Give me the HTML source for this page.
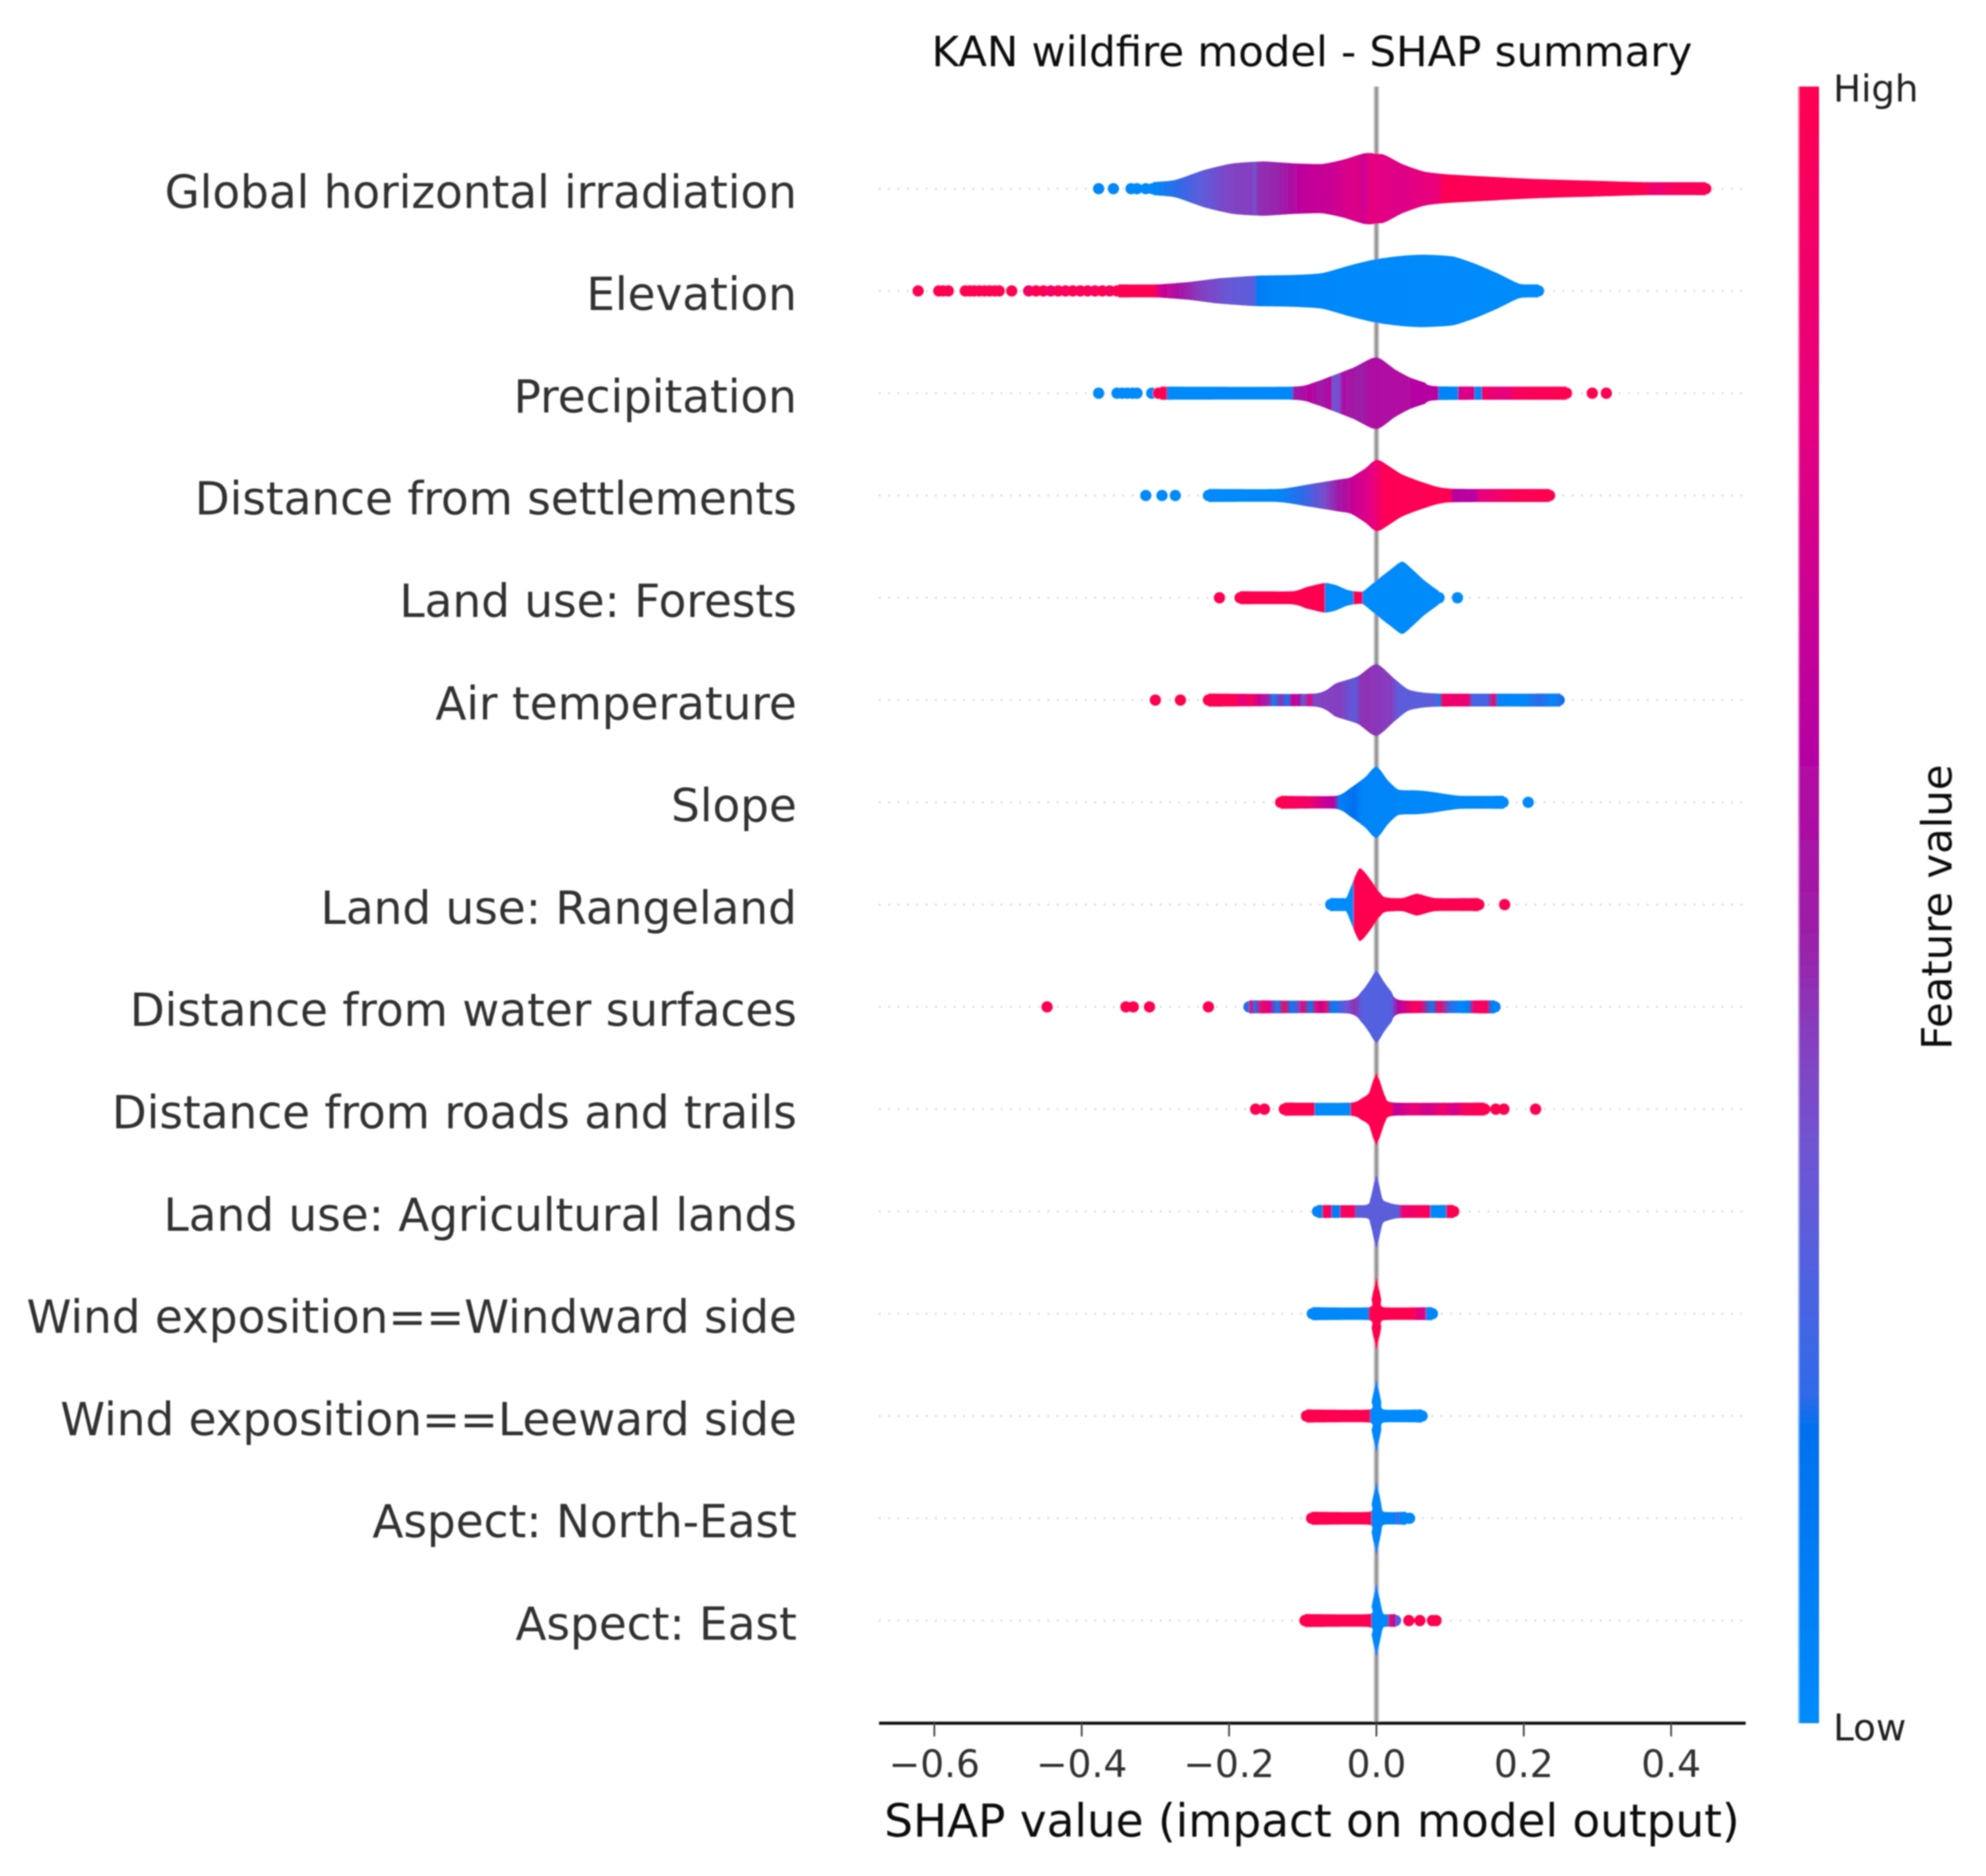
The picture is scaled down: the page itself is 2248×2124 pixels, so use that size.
<!DOCTYPE html>
<html lang="en">
<head>
<meta charset="utf-8">
<title>KAN wildfire model - SHAP summary</title>
<style>
html,body{margin:0;padding:0;background:#fff;width:2248px;height:2124px;overflow:hidden}
svg{display:block}
text{font-family:"DejaVu Sans","Liberation Sans",sans-serif}
</style>
</head>
<body>
<svg id="chart" xmlns="http://www.w3.org/2000/svg" width="2248" height="2124" viewBox="0 0 2248 2124">
  <defs id="defs">
    <filter id="soft" x="-5%" y="-5%" width="110%" height="110%"><feGaussianBlur stdDeviation="0.9"/></filter>
    <linearGradient id="cbar" x1="0" y1="1" x2="0" y2="0">
      <stop offset="0" stop-color="#008bfb"/>
      <stop offset="0.18" stop-color="#0070ee"/>
      <stop offset="0.2" stop-color="#2f6ae8"/>
      <stop offset="0.285" stop-color="#5560de"/>
      <stop offset="0.35" stop-color="#6f55d2"/>
      <stop offset="0.416" stop-color="#8440c0"/>
      <stop offset="0.48" stop-color="#9a20a8"/>
      <stop offset="0.61" stop-color="#b900a0"/>
      <stop offset="0.8" stop-color="#e6007f"/>
      <stop offset="1" stop-color="#ff0051"/>
    </linearGradient>
  </defs>
  <g id="root" filter="url(#soft)">
    <g id="gridLayer"></g>
    <line id="zeroHalo" stroke="#ddd" stroke-width="7"></line>
    <line id="zeroLine" stroke="#999" stroke-width="4"></line>
    <g id="markLayer"></g>
    <g id="labelLayer"></g>
    <g id="axisLayer"></g>
    <text x="1485" y="75" text-anchor="middle" font-size="47.4" fill="#111">KAN wildfire model - SHAP summary</text>
    <text x="1485" y="2079.5" text-anchor="middle" font-size="51.3" fill="#111">SHAP value (impact on model output)</text>
    <rect x="2035" y="98" width="2" height="1853" fill="url(#cbar)" opacity="0.45"></rect>
    <rect x="2037" y="98" width="22" height="1853" fill="url(#cbar)"></rect>
    <text x="2075" y="115" font-size="42" fill="#222">High</text>
    <text x="2075" y="1970.5" font-size="42" fill="#222">Low</text>
    <text transform="translate(2209,1027) rotate(-90)" text-anchor="middle" font-size="47.3" fill="#111">Feature value</text>
  </g>
</svg>
<script>
const features = ["Global horizontal irradiation","Elevation","Precipitation","Distance from settlements","Land use: Forests","Air temperature","Slope","Land use: Rangeland","Distance from water surfaces","Distance from roads and trails","Land use: Agricultural lands","Wind exposition==Windward side","Wind exposition==Leeward side","Aspect: North-East","Aspect: East"];
const tickValues = [-0.6,-0.4,-0.2,0,0.2,0.4];
const tickLabels = ["\u22120.6","\u22120.4","\u22120.2","0.0","0.2","0.4"];

/* each row: density outline [shap, density], feature-value colour [shap, value], sparse points [shap, value] */
const ghiDensity = [[-.303,.17],[-.273,.24],[-.233,.52],[-.194,.70],[-.154,.75],[-.114,.70],[-.074,.68],[-.045,.80],[-.015,.98],[.01,.94],[.035,.68],[.065,.47],[.094,.40],[.164,.32],[.223,.26],[.293,.22],[.362,.18],[.447,.165]];
const ghiValue = [[-.303,.02],[-.27,.2],[-.24,.3],[-.2,.4],[-.17,.42],[-.165,.36],[-.16,.45],[-.135,.47],[-.115,.56],[-.1,.64],[-.06,.68],[-.03,.76],[-.015,.7],[-.01,.8],[.03,.76],[.06,.8],[.085,.84],[.09,.98],[.36,1],[.38,.84],[.4,.95],[.447,.97]];
const ghiPoints = [[-.377,.02],[-.357,.02],[-.333,.02],[-.325,.02],[-.313,.03],[-.304,.03],[.43,.95],[.44,.98],[.447,1]];

const elevDensity = [[-.35,.165],[-.298,.18],[-.253,.25],[-.213,.35],[-.164,.42],[-.114,.44],[-.074,.49],[-.035,.71],[0,.88],[.035,.97],[.065,1],[.104,.95],[.134,.75],[.164,.49],[.194,.2],[.22,.165]];
const elevValue = [[-.35,1],[-.302,1],[-.295,.72],[-.27,.55],[-.24,.42],[-.2,.33],[-.166,.3],[-.162,.1],[-.14,.05],[-.08,.02],[.22,0]];
const elevPoints = [[-.622,1],[-.594,1],[-.588,1],[-.581,1],[-.558,1],[-.552,1],[-.546,1],[-.539,1],[-.532,1],[-.525,1],[-.518,1],[-.512,1],[-.495,1],[-.472,.9],[-.462,1],[-.452,1],[-.442,.9],[-.432,1],[-.422,.95],[-.412,1],[-.402,.95],[-.392,1],[-.382,.95],[-.372,1],[-.362,.95],[-.352,1],[.22,0]];

const precipDensity = [[-.293,.165],[-.114,.17],[-.084,.30],[-.055,.52],[-.03,.72],[0,1],[.025,.66],[.045,.44],[.065,.30],[.084,.19],[.258,.165]];
const precipValue = [[-.293,1],[-.286,1],[-.283,.01],[-.115,.02],[-.112,.5],[-.09,.6],[-.075,.5],[-.062,.6],[-.06,.35],[-.05,.38],[-.046,.55],[-.02,.48],[-.01,.56],[.04,.58],[.083,.6],[.085,.04],[.11,.04],[.112,.75],[.132,.75],[.134,.02],[.142,.02],[.144,.9],[.175,.8],[.19,.95],[.258,1]];
const precipPoints = [[-.377,.01],[-.352,.01],[-.345,.01],[-.338,.01],[-.331,.01],[-.325,.01],[-.305,.01],[-.296,1],[.258,1],[.293,1],[.312,1]];

const settleDensity = [[-.228,.165],[-.134,.17],[-.094,.30],[-.055,.43],[-.035,.50],[-.015,.75],[0,1],[.015,.84],[.035,.58],[.065,.35],[.1,.19],[.235,.165]];
const settleValue = [[-.228,.01],[-.134,.03],[-.1,.2],[-.07,.38],[-.05,.52],[-.03,.68],[-.005,.8],[.01,.98],[.1,1],[.105,.6],[.135,.62],[.14,.8],[.17,.9],[.185,.98],[.235,1]];
const settlePoints = [[-.313,.01],[-.291,.01],[-.273,.01],[-.228,.01],[.235,1]];

const forestDensity = [[-.185,.165],[-.114,.18],[-.094,.30],[-.07,.41],[-.055,.35],[-.04,.22],[-.03,.15],[-.018,.14],[0,.48],[.018,.76],[.035,1],[.05,.76],[.065,.48],[.085,.17]];
const forestValue = [[-.185,1],[-.071,1],[-.069,0],[-.032,0],[-.03,1],[-.02,1],[-.018,0],[.085,0]];
const forestPoints = [[-.213,1],[-.185,1],[.085,0],[.11,0]];

const airDensity = [[-.228,.165],[-.084,.17],[-.055,.46],[-.025,.66],[0,1],[.025,.58],[.045,.28],[.085,.17],[.25,.165]];
const airValue = [[-.228,1],[-.19,.98],[-.185,.8],[-.17,.95],[-.16,.7],[-.145,.45],[-.14,.05],[-.13,.45],[-.12,.1],[-.115,.7],[-.105,.55],[-.1,.3],[-.09,.8],[-.085,.4],[-.05,.42],[-.03,.3],[-.02,.45],[.02,.42],[.03,.3],[.08,.3],[.085,.05],[.09,.9],[.125,.85],[.13,.25],[.15,.25],[.16,.9],[.165,.04],[.2,.02],[.22,.2],[.24,.02],[.25,.2]];
const airPoints = [[-.3,1],[-.266,1],[-.228,1],[-.22,1],[-.205,1],[.248,.15]];

const slopeDensity = [[-.13,.165],[-.055,.17],[-.035,.40],[-.015,.70],[0,1],[.015,.62],[.03,.35],[.055,.33],[.075,.29],[.114,.17],[.173,.165]];
const slopeValue = [[-.13,1],[-.09,.9],[-.075,.7],[-.058,.6],[-.05,.08],[-.03,.18],[-.02,.04],[.173,.01]];
const slopePoints = [[-.13,1],[.172,.01],[.206,.01]];

const rangeDensity = [[-.063,.165],[-.045,.165],[-.04,.22],[-.023,1],[-.005,.61],[.01,.22],[.035,.17],[.055,.30],[.08,.17],[.139,.165]];
const rangeValue = [[-.063,0],[-.032,0],[-.03,1],[.139,1]];
const rangePoints = [[-.062,0],[.139,1],[.174,1]];

const waterDensity = [[-.173,.165],[-.04,.17],[-.02,.43],[-.01,.7],[0,1],[.01,.7],[.02,.43],[.035,.17],[.161,.165]];
const waterValue = [[-.173,.2],[-.172,.95],[-.165,.2],[-.155,.9],[-.145,.75],[-.135,.05],[-.125,.95],[-.115,.1],[-.105,.4],[-.1,.9],[-.09,.1],[-.08,.9],[-.075,.6],[-.07,.95],[-.06,.1],[-.04,.35],[-.03,.45],[-.02,.28],[.02,.28],[.03,.6],[.05,.95],[.06,.9],[.075,.1],[.085,.95],[.1,.2],[.115,.02],[.125,.1],[.132,.9],[.15,.95],[.156,.1],[.161,.05]];
const waterPoints = [[-.447,1],[-.34,1],[-.33,1],[-.308,1],[-.228,1],[-.173,.2],[.161,.05]];

const roadDensity = [[-.125,.165],[-.035,.17],[-.02,.30],[-.01,.45],[0,1],[.012,.35],[.025,.17],[.147,.165]];
const roadValue = [[-.125,1],[-.085,1],[-.083,.01],[-.036,.01],[-.034,1],[.02,1],[.025,.62],[.05,.85],[.07,.7],[.09,.9],[.105,.72],[.12,.95],[.147,1]];
const roadPoints = [[-.164,1],[-.152,1],[-.125,1],[.147,1],[.162,1],[.173,1],[.216,1]];

const agriDensity = [[-.08,.165],[-.015,.17],[-.008,.36],[0,1],[.008,.36],[.014,.26],[.033,.18],[.105,.165]];
const agriValue = [[-.08,.05],[-.074,.05],[-.072,1],[-.062,.9],[-.06,.1],[-.05,.1],[-.048,.95],[-.03,.95],[-.028,.3],[.03,.3],[.035,.85],[.06,.95],[.072,.95],[.074,.03],[.094,.03],[.096,1],[.105,1]];
const agriPoints = [[-.08,.05],[.105,1]];

const windwardDensity = [[-.087,.165],[-.01,.165],[-.0065,.4],[-.0035,.7],[0,1],[.0035,.7],[.0065,.4],[.01,.165],[.076,.165]];
const windwardValue = [[-.087,.02],[-.012,.02],[-.008,1],[.053,1],[.055,.75],[.066,.8],[.068,.02],[.076,.02]];
const windwardPoints = [[-.087,.02],[-.08,.02],[.076,.02]];

const leewardDensity = [[-.095,.165],[-.01,.165],[-.0065,.4],[-.0035,.7],[0,1],[.0035,.7],[.0065,.4],[.01,.165],[.062,.17]];
const leewardValue = [[-.095,1],[-.01,1],[-.007,.02],[.062,.01]];
const leewardPoints = [[-.095,1],[-.088,1],[.062,.01]];

const northEastDensity = [[-.088,.165],[-.01,.165],[-.0065,.4],[-.0035,.7],[0,1],[.0035,.7],[.0065,.4],[.01,.165],[.04,.15]];
const northEastValue = [[-.088,1],[-.008,1],[-.006,.03],[.026,.04],[.028,.3],[.032,.03],[.045,.02]];
const northEastPoints = [[-.088,1],[.035,.02],[.04,.02],[.045,.03]];

const eastDensity = [[-.097,.165],[-.01,.165],[-.0065,.4],[-.0035,.7],[0,1],[.0035,.7],[.0065,.4],[.01,.165],[.026,.16]];
const eastValue = [[-.097,1],[-.008,1],[-.006,.02],[.015,.03],[.018,.9],[.026,.5]];
const eastPoints = [[-.097,1],[.026,.3],[.044,1],[.059,1],[.076,1],[.081,1]];

const densities = [ghiDensity,elevDensity,precipDensity,settleDensity,forestDensity,airDensity,slopeDensity,rangeDensity,waterDensity,roadDensity,agriDensity,windwardDensity,leewardDensity,northEastDensity,eastDensity];
const values = [ghiValue,elevValue,precipValue,settleValue,forestValue,airValue,slopeValue,rangeValue,waterValue,roadValue,agriValue,windwardValue,leewardValue,northEastValue,eastValue];
const points = [ghiPoints,elevPoints,precipPoints,settlePoints,forestPoints,airPoints,slopePoints,rangePoints,waterPoints,roadPoints,agriPoints,windwardPoints,leewardPoints,northEastPoints,eastPoints];

const SVGNS = "http://www.w3.org/2000/svg";
const plot = {x0:1558, perUnit:834, left:995, right:1976, axisY:1951, topY:98, row0:213.6, rowStep:115.8, maxHalf:41, minHalf:7.4};
function xScale(v){ return plot.x0 + v*plot.perUnit; }
function yScale(i){ return plot.row0 + i*plot.rowStep; }
function hScale(d){ return Math.max(d*plot.maxHalf, plot.minHalf); }

const ramp = [[0,[0,139,251]],[.18,[0,112,238]],[.2,[47,106,232]],[.285,[85,96,222]],[.35,[111,85,210]],[.416,[132,64,192]],[.48,[154,32,168]],[.61,[185,0,160]],[.8,[230,0,127]],[1,[255,0,81]]];
function valueColor(t){
  t = Math.max(0,Math.min(1,t));
  for(let k=1;k<ramp.length;k++){
    if(t<=ramp[k][0]){
      const a=ramp[k-1], b=ramp[k], f=(t-a[0])/(b[0]-a[0]);
      return "rgb("+a[1].map((c,j)=>Math.round(c+(b[1][j]-c)*f)).join(",")+")";
    }
  }
  return "rgb(255,0,81)";
}
function make(tag, attrs, parent){
  const el=document.createElementNS(SVGNS,tag);
  for(const k in attrs){ el.setAttribute(k,attrs[k]); }
  parent.appendChild(el);
  return el;
}
function smoothEdge(pts){
  let d="";
  for(let k=0;k<pts.length-1;k++){
    const p0=pts[Math.max(0,k-1)],p1=pts[k],p2=pts[k+1],p3=pts[Math.min(pts.length-1,k+2)];
    const c1=[p1[0]+(p2[0]-p0[0])/10,p1[1]+(p2[1]-p0[1])/10];
    const c2=[p2[0]-(p3[0]-p1[0])/10,p2[1]-(p3[1]-p1[1])/10];
    d+=" C"+c1[0].toFixed(1)+" "+c1[1].toFixed(1)+" "+c2[0].toFixed(1)+" "+c2[1].toFixed(1)+" "+p2[0].toFixed(1)+" "+p2[1].toFixed(1);
  }
  return d;
}

const svgDefs=document.getElementById("defs");
const gridLayer=document.getElementById("gridLayer");
const markLayer=document.getElementById("markLayer");
const labelLayer=document.getElementById("labelLayer");
const axisLayer=document.getElementById("axisLayer");

["zeroHalo","zeroLine"].forEach(id=>{
  const zero=document.getElementById(id);
  zero.setAttribute("x1",xScale(0));
  zero.setAttribute("x2",xScale(0));
  zero.setAttribute("y1",plot.topY);
  zero.setAttribute("y2",plot.axisY);
});

features.forEach((name,i)=>{
  const y=yScale(i);
  const guide=make("line",{x1:plot.left,x2:plot.right,y1:y,y2:y,stroke:"#ccc","stroke-width":2,"stroke-dasharray":"1.6 9"},gridLayer);
  
  

  const label=make("text",{x:902,y:y+21.7,"text-anchor":"end","font-size":51.3,fill:"#333"},labelLayer);
  label.textContent=name;
  
  

  const group=make("g",{},markLayer);
  
  

  const dens=densities[i], vals=values[i];
  const x1=xScale(vals[0][0]), x2=xScale(vals[vals.length-1][0]);
  const grad=make("linearGradient",{id:"rowGrad"+i,gradientUnits:"userSpaceOnUse",x1:x1,x2:x2,y1:0,y2:0},svgDefs);
  vals.forEach(v=>{
    make("stop",{offset:(xScale(v[0])-x1)/(x2-x1),"stop-color":valueColor(v[1])},grad);
  });

  const top=dens.map(p=>[xScale(p[0]),y-hScale(p[1])]);
  const bottom=dens.map(p=>[xScale(p[0]),y+hScale(p[1])]).reverse();
  const d="M"+top[0][0].toFixed(1)+" "+top[0][1].toFixed(1)+smoothEdge(top)+" L"+bottom[0][0].toFixed(1)+" "+bottom[0][1].toFixed(1)+smoothEdge(bottom)+" Z";

  points[i].forEach(p=>{
    const dot=make("circle",{cx:xScale(p[0]),cy:y,r:6.4,fill:valueColor(p[1])},group);
    
    
  });
  const violin=make("path",{d:d,fill:"url(#rowGrad"+i+")"},group);
  
  
});

const axisLine=make("line",{x1:plot.left,x2:plot.right,y1:plot.axisY,y2:plot.axisY,stroke:"#111","stroke-width":3.4},axisLayer);



tickValues.forEach((v,i)=>{
  const tick=make("line",{x1:xScale(v),x2:xScale(v),y1:plot.axisY,y2:plot.axisY+15,stroke:"#444","stroke-width":2},axisLayer);
  
  
  const tickText=make("text",{x:xScale(v),y:2012,"text-anchor":"middle","font-size":42.5,fill:"#333"},axisLayer);
  tickText.textContent=tickLabels[i];
  
  
});
</script>
</body>
</html>
